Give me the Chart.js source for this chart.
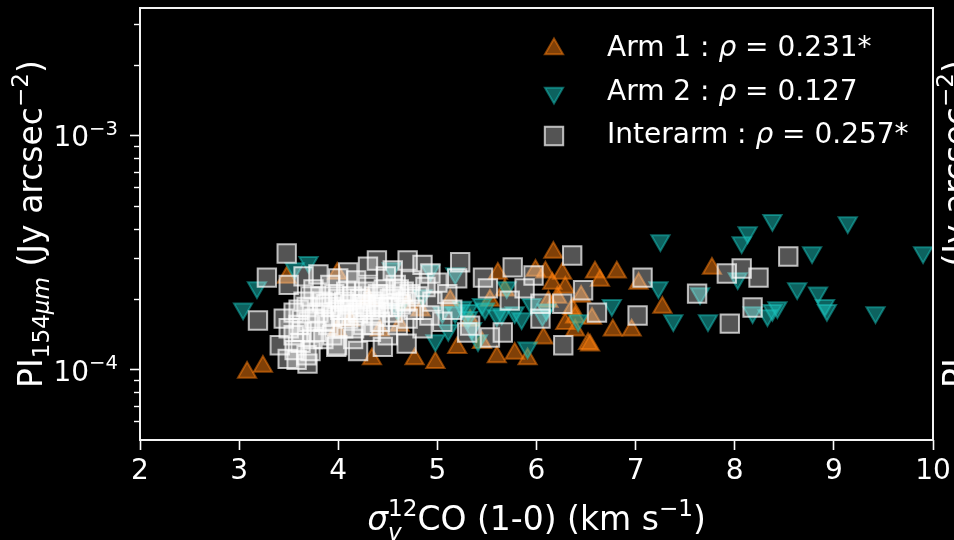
<!DOCTYPE html>
<html>
<head>
<meta charset="utf-8">
<script src="https://cdn.jsdelivr.net/npm/chart.js@4.4.1/dist/chart.umd.min.js"></script>
<style>
  html, body { margin: 0; padding: 0; background: #000; }
  canvas { display: block; }
</style>
</head>
<body>
<canvas id="scatter" width="954" height="540"></canvas>
<script>
const seriesNames = ["Arm 1", "Arm 2", "Interarm"];
const rhoValues = ["0.231*", "0.127", "0.257*"];

// PI values are listed in units of 1e-4 Jy arcsec^-2
const PI_UNIT = 1e-4;

// velocity dispersion sigma_v (km/s) and polarized intensity per region
const arm1Sigma = [3.08, 3.24, 3.48, 3.99, 4.34, 4.77, 4.98, 5.20, 6.17, 6.09,
  6.26, 6.16, 6.29, 6.21, 6.29, 6.39, 6.52, 6.07, 5.60, 5.78,
  5.91, 5.61, 5.99, 6.36, 6.39, 6.59, 6.64, 6.81, 6.56, 6.54,
  6.77, 6.96, 7.03, 7.27, 7.77, 4.12, 4.42, 4.62, 3.99, 4.83,
  5.13, 5.33, 5.53, 5.68, 4.30, 4.70, 5.45, 6.45, 6.12];
const arm1PI = [0.97, 1.03, 2.47, 2.57, 1.11, 1.11, 1.07, 1.24, 3.16, 2.60,
  2.57, 2.33, 2.24, 2.03, 1.57, 1.47, 1.29, 1.36, 1.13, 1.17,
  1.11, 2.57, 2.65, 1.82, 1.67, 2.60, 2.40, 2.60, 1.65, 1.27,
  1.47, 1.47, 2.33, 1.84, 2.70, 1.62, 1.47, 1.54, 1.47, 1.79,
  1.97, 1.62, 1.97, 2.18, 2.00, 1.90, 1.30, 2.05, 1.95];

const arm2Sigma = [3.70, 3.56, 3.18, 3.04, 5.18, 5.31, 5.11, 4.98, 5.18, 5.31,
  5.41, 5.70, 5.91, 6.42, 5.65, 5.78, 6.06, 5.48, 7.25, 7.23,
  6.76, 7.38, 7.73, 7.65, 8.38, 8.13, 8.07, 8.78, 8.63, 8.84,
  8.91, 8.93, 8.03, 8.18, 8.38, 8.33, 8.43, 9.14, 9.90, 9.42,
  4.54, 4.85, 4.93, 5.05, 5.25, 5.45, 5.60, 5.85, 5.95, 6.10,
  5.35, 4.60];
const arm2PI = [2.87, 2.70, 2.24, 1.82, 2.57, 1.67, 1.47, 1.33, 1.75, 1.79,
  1.33, 2.24, 1.24, 1.62, 1.73, 1.75, 1.70, 1.82, 3.56, 2.24,
  1.88, 1.62, 1.62, 2.11, 4.34, 3.85, 3.49, 3.16, 2.22, 2.13,
  1.88, 1.79, 2.45, 1.75, 1.79, 1.70, 1.84, 4.25, 3.16, 1.75,
  2.70, 2.07, 2.65, 1.75, 1.85, 1.90, 1.70, 1.65, 1.90, 1.80,
  1.50, 1.80];

const interSigma = [3.48, 3.28, 3.19, 3.49, 3.69, 3.41, 3.56, 4.39, 4.70, 5.23,
  4.93, 3.99, 4.69, 6.36, 7.07, 7.02, 6.27, 5.76, 5.97, 6.47,
  6.61, 5.30, 5.53, 5.66, 6.04, 5.73, 5.46, 5.51, 5.88, 6.26,
  6.04, 5.33, 7.62, 8.54, 8.07, 7.92, 8.24, 8.18, 7.95,
  3.45, 3.50, 3.55, 3.60, 3.62, 3.65, 3.70, 3.72, 3.75, 3.78,
  3.80, 3.82, 3.85, 3.88, 3.90, 3.92, 3.95, 3.98, 4.00, 4.02,
  4.05, 4.08, 4.10, 4.12, 4.15, 4.18, 4.20, 4.22, 4.25, 4.28,
  4.30, 4.33, 4.35, 4.38, 4.40, 4.42, 4.45, 4.48, 4.50, 4.52,
  4.55, 4.58, 4.60, 4.63, 4.66, 4.70, 4.73, 4.76, 4.80, 4.85,
  4.88, 4.92, 4.95, 5.00, 5.05, 5.10, 5.15, 5.20, 3.58, 3.68,
  3.50, 3.65, 4.30, 4.55, 4.85, 4.10, 3.80, 4.00, 4.20, 4.45,
  3.55, 3.60, 3.68, 3.72, 3.76, 3.84, 3.86, 3.93, 3.96, 4.03,
  4.06, 4.09, 4.14, 4.16, 4.24, 4.26, 4.32, 4.36, 4.41, 4.46,
  4.51, 4.56, 4.61, 4.68, 4.72, 3.63, 3.74, 3.94, 4.16, 4.36];
const interPI = [3.13, 2.47, 1.62, 1.11, 1.06, 1.27, 1.21, 2.92, 2.92, 2.87,
  2.57, 1.27, 1.29, 3.07, 2.47, 1.70, 1.27, 2.73, 2.52, 2.18,
  1.75, 1.44, 1.37, 1.44, 1.91, 1.97, 2.47, 2.22, 2.22, 1.91,
  1.65, 1.54, 2.11, 3.04, 2.70, 2.57, 2.47, 1.84, 1.57,
  1.65, 1.50, 1.40, 1.80, 1.30, 1.95, 1.60, 1.20, 2.20, 1.45,
  1.75, 2.05, 1.35, 1.90, 1.55, 2.30, 1.70, 1.25, 2.00, 1.80,
  1.50, 2.15, 1.65, 1.90, 1.35, 2.40, 1.75, 2.00, 1.55, 1.85,
  2.25, 1.45, 1.95, 1.70, 2.10, 1.60, 1.85, 2.50, 1.40, 2.00,
  1.75, 2.30, 1.55, 1.90, 2.15, 1.65, 2.40, 1.80, 2.05, 1.50,
  2.25, 1.70, 1.95, 2.35, 1.60, 2.10, 1.80, 2.45, 1.10, 1.15,
  2.30, 2.50, 2.75, 2.65, 2.80, 2.60, 2.55, 2.45, 1.20, 1.25,
  1.75, 1.55, 1.85, 2.05, 1.65, 1.95, 1.60, 1.85, 2.10, 1.70,
  1.95, 1.80, 2.05, 1.70, 1.90, 2.15, 1.80, 2.05, 1.90, 2.20,
  1.85, 2.05, 2.20, 1.95, 2.10, 1.45, 1.35, 1.40, 1.50, 1.55];

const xTicks = [2, 3, 4, 5, 6, 7, 8, 9, 10];
const yMajorTicks = [1e-4, 1e-3];
const yMajorExponents = ["\u22124", "\u22123"];
const yMinorTicks = [6e-5, 7e-5, 8e-5, 9e-5, 2e-4, 3e-4, 4e-4, 5e-4, 6e-4, 7e-4, 8e-4, 9e-4, 2e-3, 3e-3];

const FONT = '"DejaVu Sans", sans-serif';

// marker look for each region, in legend order
const markerStyles = [
  { pointStyle: "triangle", rotation: 0, radius: 10.5, fill: "rgba(255,127,14,0.5)", edge: "rgba(255,127,14,0.5)" },
  { pointStyle: "triangle", rotation: 180, radius: 10.5, fill: "rgba(25,195,190,0.5)", edge: "rgba(25,195,190,0.5)" },
  { pointStyle: "rect", rotation: 0, radius: 13, fill: "rgba(255,255,255,0.33)", edge: "rgba(255,255,255,0.7)" },
];

function toPoints(xs, ys) {
  return xs.map((x, i) => ({ x, y: ys[i] * PI_UNIT }));
}

// small mathtext-like writer: plain, italic, sub and superscript runs
function runFont(p, size) {
  const s = p.sub || p.sup ? size * 0.7 : size;
  return (p.it ? "italic " : "") + s + "px " + FONT;
}
function runWidth(ctx, p, size) {
  ctx.font = runFont(p, size);
  let w = ctx.measureText(p.t).width;
  if (p.over) {
    ctx.font = runFont({ sup: true }, size);
    w = Math.max(w, ctx.measureText(p.over).width);
  }
  return w;
}
function drawRich(ctx, runs, x, y, size, align) {
  const total = runs.reduce((s, p) => s + runWidth(ctx, p, size), 0);
  let cx = align === "center" ? x - total / 2 : align === "right" ? x - total : x;
  ctx.textAlign = "left";
  ctx.textBaseline = "alphabetic";
  runs.forEach((p) => {
    const w = runWidth(ctx, p, size);
    ctx.font = runFont(p, size);
    const dy = p.sub ? size * (p.over ? 0.3 : 0.22) : p.sup ? -size * 0.42 : 0;
    ctx.fillText(p.t, cx, y + dy);
    if (p.over) {
      ctx.font = runFont({ sup: true }, size);
      ctx.fillText(p.over, cx, y - size * 0.42);
    }
    cx += w;
  });
}

const yTitleRuns = [
  { t: "PI" }, { t: "154", sub: true }, { t: "\u03BCm", sub: true, it: true },
  { t: " (Jy arcsec" }, { t: "\u22122", sup: true }, { t: ")" },
];
const xTitleRuns = [
  { t: "\u03C3", it: true }, { t: "v", sub: true, it: true, over: "12" },
  { t: "CO (1-0) (km s" }, { t: "\u22121", sup: true }, { t: ")" },
];

const decorations = {
  id: "decorations",
  afterDraw(chart) {
    const { ctx, chartArea: a, scales } = chart;
    ctx.save();

    // minor ticks on the log axis
    ctx.strokeStyle = "#ffffff";
    ctx.lineWidth = 1.4;
    yMinorTicks.forEach((v) => {
      const py = Math.round(scales.y.getPixelForValue(v)) + 0.5;
      ctx.beginPath();
      ctx.moveTo(a.left - 6, py);
      ctx.lineTo(a.left, py);
      ctx.stroke();
    });

    // decade labels written as 10 with a raised exponent
    ctx.fillStyle = "#ffffff";
    yMajorTicks.forEach((v, i) => {
      const py = scales.y.getPixelForValue(v);
      drawRich(ctx, [{ t: "10" }, { t: yMajorExponents[i], sup: true }], a.left - 22, py + 11, 28, "right");
    });

    // frame round the plot
    ctx.lineWidth = 2;
    ctx.strokeStyle = "#f2f2f2";
    ctx.strokeRect(a.left, a.top, a.right - a.left, a.bottom - a.top);

    // axis titles
    ctx.fillStyle = "#ffffff";
    drawRich(ctx, xTitleRuns, (a.left + a.right) / 2, 530, 33, "center");
    [42, 967].forEach((bx) => {
      ctx.save();
      ctx.translate(bx, (a.top + a.bottom) / 2);
      ctx.rotate(-Math.PI / 2);
      drawRich(ctx, yTitleRuns, 0, 0, 33, "center");
      ctx.restore();
    });

    // legend
    const rowBase = [56, 100, 143];
    seriesNames.forEach((name, i) => {
      const st = markerStyles[i];
      ctx.fillStyle = st.fill;
      ctx.strokeStyle = st.edge;
      ctx.lineWidth = 2;
      Chart.helpers.drawPoint(ctx, { pointStyle: st.pointStyle, rotation: st.rotation, radius: st.radius, borderWidth: 2 }, 554, rowBase[i] - 7);
      ctx.fillStyle = "#ffffff";
      drawRich(ctx, [{ t: name + " : " }, { t: "\u03C1", it: true }, { t: " = " + rhoValues[i] }], 607, rowBase[i], 28, "left");
    });

    ctx.restore();
  },
};

const pointSets = [toPoints(arm1Sigma, arm1PI), toPoints(arm2Sigma, arm2PI), toPoints(interSigma, interPI)];

new Chart(document.getElementById("scatter"), {
  type: "scatter",
  data: {
    datasets: seriesNames.map((name, i) => ({
      label: name,
      data: pointSets[i],
      order: 3 - i,
      pointStyle: markerStyles[i].pointStyle,
      rotation: markerStyles[i].rotation,
      radius: markerStyles[i].radius,
      backgroundColor: markerStyles[i].fill,
      borderColor: markerStyles[i].edge,
      borderWidth: 2,
    })),
  },
  options: {
    responsive: false,
    devicePixelRatio: 1,
    animation: false,
    layout: { autoPadding: false, padding: { top: 8, right: 21, left: 0, bottom: 0 } },
    plugins: { legend: { display: false }, tooltip: { enabled: false } },
    scales: {
      x: {
        type: "linear",
        min: 2,
        max: 10,
        afterFit: (s) => { s.height = 100; s.paddingLeft = 0; s.paddingRight = 0; },
        afterBuildTicks: (s) => { s.ticks = xTicks.map((v) => ({ value: v })); },
        ticks: { color: "#ffffff", font: { family: FONT, size: 28 }, padding: 5, autoSkip: false, maxRotation: 0 },
        grid: { drawOnChartArea: false, tickLength: 10, tickColor: "#ffffff", tickWidth: 1.6 },
        border: { display: false },
      },
      y: {
        type: "logarithmic",
        min: 5e-5,
        max: 3.5e-3,
        afterFit: (s) => { s.width = 140; s.paddingTop = 0; s.paddingBottom = 0; },
        afterBuildTicks: (s) => {
          s.ticks = yMajorTicks.map((v) => ({ value: v, major: true }))
            .concat(yMinorTicks.map((v) => ({ value: v, major: false })))
            .sort((a, b) => a.value - b.value);
        },
        ticks: { display: false, autoSkip: false },
        grid: {
          drawOnChartArea: false,
          tickLength: 10,
          tickWidth: 1.6,
          tickColor: (c) => (c.tick && c.tick.major ? "#ffffff" : "rgba(0,0,0,0)"),
        },
        border: { display: false },
      },
    },
  },
  plugins: [decorations],
});
</script>
</body>
</html>
